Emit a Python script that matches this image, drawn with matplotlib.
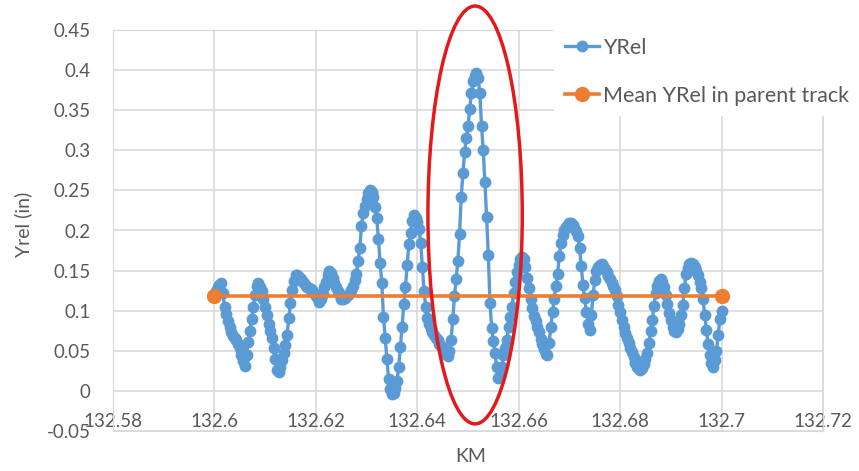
import numpy as np
import matplotlib
matplotlib.use("Agg")
import matplotlib.pyplot as plt
from matplotlib.patches import Ellipse
from matplotlib.ticker import FuncFormatter

yrel = [
    0.118, 0.124, 0.129, 0.132, 0.134, 0.122,
    0.105, 0.096, 0.087, 0.080, 0.073, 0.069,
    0.066, 0.063, 0.059, 0.054, 0.045, 0.037,
    0.031, 0.045, 0.061, 0.075, 0.090, 0.105,
    0.119, 0.131, 0.134, 0.130, 0.124, 0.114,
    0.105, 0.095, 0.084, 0.075, 0.066, 0.053,
    0.040, 0.026, 0.023, 0.030, 0.038, 0.047,
    0.057, 0.070, 0.091, 0.110, 0.126, 0.137,
    0.145, 0.144, 0.142, 0.140, 0.137, 0.134,
    0.131, 0.129, 0.128, 0.127, 0.126, 0.122,
    0.118, 0.114, 0.111, 0.114, 0.121, 0.129,
    0.136, 0.144, 0.150, 0.147, 0.141, 0.134,
    0.129, 0.124, 0.119, 0.115, 0.114, 0.116,
    0.118, 0.120, 0.123, 0.126, 0.131, 0.138,
    0.146, 0.162, 0.178, 0.206, 0.222, 0.231,
    0.239, 0.247, 0.251, 0.248, 0.242, 0.229,
    0.215, 0.190, 0.160, 0.135, 0.092, 0.066,
    0.040, 0.015, 0.002, -0.004, -0.003, 0.003,
    0.012, 0.030, 0.055, 0.080, 0.108, 0.130,
    0.157, 0.183, 0.197, 0.212, 0.219, 0.216,
    0.210, 0.202, 0.185, 0.155, 0.125, 0.104,
    0.091, 0.084, 0.078, 0.074, 0.070, 0.066,
    0.063, 0.059, 0.056, 0.053, 0.050, 0.046,
    0.043, 0.050, 0.064, 0.090, 0.118, 0.140,
    0.162, 0.196, 0.242, 0.272, 0.298, 0.315,
    0.330, 0.352, 0.372, 0.386, 0.393, 0.396,
    0.390, 0.372, 0.330, 0.300, 0.260, 0.217,
    0.170, 0.110, 0.078, 0.062, 0.047, 0.030,
    0.016, 0.018, 0.030, 0.045, 0.054, 0.063,
    0.080, 0.092, 0.104, 0.122, 0.136, 0.148,
    0.157, 0.164, 0.167, 0.164, 0.154, 0.141,
    0.128, 0.115, 0.103, 0.094, 0.087, 0.080,
    0.073, 0.065, 0.058, 0.052, 0.046, 0.045,
    0.060, 0.080, 0.098, 0.115, 0.131, 0.146,
    0.168, 0.184, 0.194, 0.200, 0.204, 0.207,
    0.209, 0.209, 0.207, 0.203, 0.199, 0.193,
    0.178, 0.156, 0.132, 0.116, 0.098, 0.084,
    0.076, 0.095, 0.120, 0.138, 0.150, 0.155,
    0.157, 0.158, 0.156, 0.152, 0.148, 0.143,
    0.140, 0.135, 0.131, 0.126, 0.118, 0.107,
    0.098, 0.089, 0.080, 0.072, 0.066, 0.060,
    0.054, 0.048, 0.042, 0.035, 0.030, 0.027,
    0.026, 0.028, 0.033, 0.040, 0.047, 0.060,
    0.075, 0.088, 0.106, 0.122, 0.131, 0.137,
    0.139, 0.136, 0.130, 0.120, 0.108, 0.097,
    0.088, 0.080, 0.075, 0.073, 0.077, 0.084,
    0.095, 0.107, 0.128, 0.146, 0.153, 0.158,
    0.160, 0.158, 0.154, 0.150, 0.145, 0.136,
    0.128, 0.115, 0.095, 0.076, 0.058, 0.045,
    0.035, 0.030, 0.038, 0.050, 0.070, 0.090,
    0.100,
]
km_start, km_end = 132.6, 132.7
mean_km = [132.6, 132.7]
mean_yrel = [0.118, 0.118]

# highlighted region (centre km, centre yrel, width, height)
ring = (132.6514, 0.2194, 0.0186, 0.521)

km = np.linspace(km_start, km_end, len(yrel))

plt.rcParams['font.family'] = ['Lato', 'DejaVu Sans']
grey = '#595959'
blue = '#5b9bd5'
orange = '#ed7d31'

fig = plt.figure(figsize=(8.59, 4.71), dpi=100)
ax = fig.add_axes([113 / 859, 40 / 471, 710 / 859, 401 / 471])

ax.plot(km, yrel, color=blue, lw=2.4, marker='o', ms=7.5, label='YRel', zorder=3)
ax.plot(mean_km, mean_yrel, color=orange, lw=2.6, marker='o', ms=10,
        label='Mean YRel in parent track', zorder=4)

ax.add_patch(Ellipse(ring[:2], ring[2], ring[3], fill=False, edgecolor='#e31a1c',
                     lw=2.5, clip_on=False, zorder=5))

ax.set_xlim(132.58, 132.72)
ax.set_ylim(-0.05, 0.45)
ax.set_xticks(np.arange(132.58, 132.7201, 0.02))
ax.set_yticks(np.arange(-0.05, 0.4501, 0.05))
fmt = FuncFormatter(lambda v, p: '%g' % round(v, 4))
ax.xaxis.set_major_formatter(fmt)
ax.yaxis.set_major_formatter(fmt)
ax.grid(True, color='#d9d9d9', lw=1.2)
ax.set_axisbelow(True)
for s in ax.spines.values():
    s.set_color('#d9d9d9')
ax.tick_params(axis='both', length=0, labelsize=13.5, colors=grey)
ax.tick_params(axis='x', pad=-13)
ax.tick_params(axis='y', pad=16)

fig.text(23 / 859, 1 - 224 / 471, 'Yrel (in)', rotation=90, ha='center',
         va='center', fontsize=14, color=grey)
fig.text(471 / 859, 1 - 456 / 471, 'KM', ha='center', va='center',
         fontsize=14, color=grey)

leg = ax.legend(loc='upper left', bbox_to_anchor=(543 / 859, 1 - 16 / 471),
                bbox_transform=fig.transFigure, fontsize=15.5, frameon=True,
                facecolor='white', edgecolor='none', framealpha=1,
                handlelength=1.6, handletextpad=0.2, labelspacing=1.3,
                borderpad=0.5)
for t in leg.get_texts():
    t.set_color(grey)

fig.savefig('out.png', dpi=100)
